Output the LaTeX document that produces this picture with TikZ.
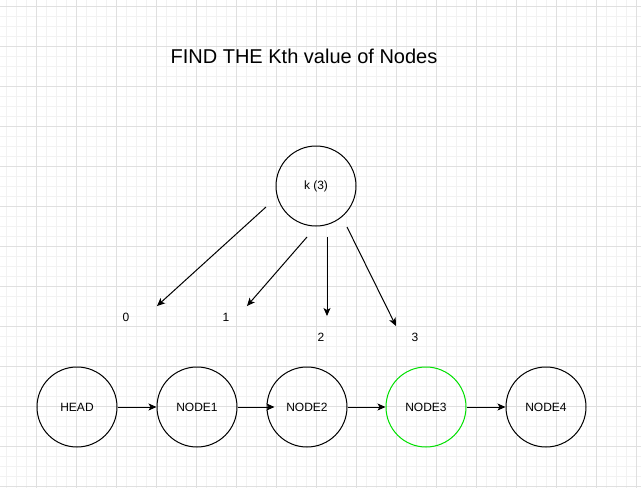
\documentclass[tikz,border=0pt]{standalone}
\usepackage{fontspec}
\setmainfont{Liberation Sans}
\usetikzlibrary{arrows.meta}
\definecolor{gridminor}{HTML}{F2F2F2}
\definecolor{gridmajor}{HTML}{E0E0E0}
\definecolor{hitgreen}{HTML}{00E000}

\begin{document}
\begin{tikzpicture}[x=1pt, y=-1pt,
        circ/.style={circle, draw=black, line width=1pt, minimum size=80pt, inner sep=0pt, font=\fontsize{12}{14}\selectfont},
        arrow/.style={-{Stealth[length=8pt, width=7pt, inset=2pt]}, line width=1pt, black},
        lbl/.style={font=\fontsize{12}{14}\selectfont}
    ]
        \useasboundingbox (0,0) rectangle (641,488);
        \fill[white] (0,0) rectangle (641,488);

        % Grid
        \foreach \gx in {6,16,...,636} \draw[gridminor, line width=1pt] (\gx,0) -- (\gx,488);
        \foreach \gy in {6,16,...,486} \draw[gridminor, line width=1pt] (0,\gy) -- (641,\gy);
        \foreach \gx in {36,76,...,636} \draw[gridmajor, line width=1pt] (\gx,0) -- (\gx,488);
        \foreach \gy in {6,46,...,486} \draw[gridmajor, line width=1pt] (0,\gy) -- (641,\gy);

        % Title
        \node[font=\fontsize{20}{24}\selectfont] (title) at (304,56) {FIND THE Kth value of Nodes};

        % Nodes
        \node[circ] (k) at (316,186) {k (3)};
        \node[circ] (head) at (77,407) {HEAD};
        \node[circ] (node1) at (197,407) {NODE1};
        \node[circ] (node2) at (307,407) {NODE2};
        \node[circ, draw=hitgreen] (node3) at (426,407) {NODE3};
        \node[circ] (node4) at (546,407) {NODE4};

        % Index labels
        \node[lbl] (idx0) at (126,317) {0};
        \node[lbl] (idx1) at (226,317) {1};
        \node[lbl] (idx2) at (321,337) {2};
        \node[lbl] (idx3) at (415,337) {3};

        % Arrow ends
        \coordinate (from0) at (266,207);
        \coordinate (to0) at (157,306);
        \coordinate (from1) at (307,237);
        \coordinate (to1) at (247,306);
        \coordinate (from2) at (327,237);
        \coordinate (to2) at (327,316);
        \coordinate (from3) at (347,227);
        \coordinate (to3) at (396,326);

        % Arrows
        \draw[arrow] (from0) -- (to0);
        \draw[arrow] (from1) -- (to1);
        \draw[arrow] (from2) -- (to2);
        \draw[arrow] (from3) -- (to3);
        \draw[arrow] (head) -- (node1);
        \draw[arrow] (node1) -- ([xshift=8pt]node2.west);
        \draw[arrow] (node2) -- (node3);
        \draw[arrow] (node3) -- (node4);
    \end{tikzpicture}
\end{document}
